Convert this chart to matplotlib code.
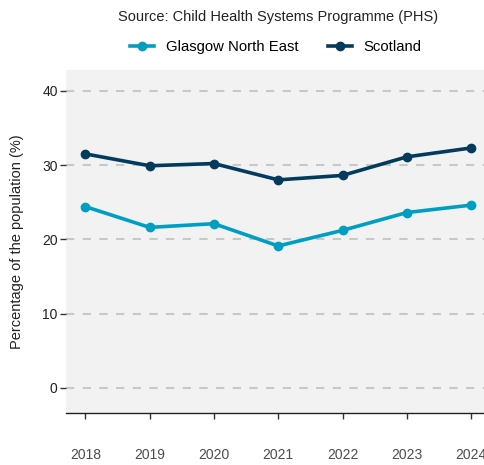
import matplotlib
matplotlib.use("Agg")
import matplotlib.pyplot as plt

plt.rcParams["font.family"] = ["Liberation Sans", "DejaVu Sans"]

years = [2018, 2019, 2020, 2021, 2022, 2023, 2024]
glasgow_ne = [24.4, 21.6, 22.1, 19.1, 21.2, 23.6, 24.6]
scotland = [31.5, 29.9, 30.2, 28.0, 28.6, 31.1, 32.3]
series_names = ["Glasgow North East", "Scotland"]
y_ticks = [0, 10, 20, 30, 40]

fig = plt.figure(figsize=(4.84, 4.65), dpi=100)
ax = fig.add_axes([0.1364, 0.1118, 0.8636, 0.7377])
ax.set_facecolor("#f2f2f2")

ax.plot(years, glasgow_ne, color="#009fc2", lw=2.6, marker="o", ms=6, label=series_names[0], zorder=3)
ax.plot(years, scotland, color="#043b5c", lw=2.6, marker="o", ms=6, label=series_names[1], zorder=3)

ax.set_xlim(2017.70, 2024.2)
ax.set_ylim(-3.4, 42.8)
ax.set_yticks(y_ticks)
ax.set_xticks(years)
ax.set_xticklabels([str(y) for y in years])

for t in y_ticks:
    ax.axhline(t, color="#c8c8c8", lw=1.5, ls=(0, (4, 4)), zorder=1)

for s in ["top", "right", "left"]:
    ax.spines[s].set_visible(False)
ax.spines["bottom"].set_color("#222222")
ax.spines["bottom"].set_linewidth(1.0)

ax.tick_params(axis="x", length=4, width=1, color="#333333", pad=21, labelsize=10, labelcolor="#4d4d4d")
ax.tick_params(axis="y", length=4, width=1, color="#333333", pad=2, labelsize=10, labelcolor="#222222")

ax.set_ylabel("Percentage of the population (%)", fontsize=10.5, color="#222222", labelpad=13)

fig.text(0.575, 0.963, "Source: Child Health Systems Programme (PHS)", ha="center", va="center",
         fontsize=10.5, color="#222222")
fig.legend(loc="center", bbox_to_anchor=(0.57, 0.899), ncol=2, frameon=False, fontsize=10.7,
           handlelength=1.6, columnspacing=2.0, handletextpad=0.8)

plt.savefig("out.png", dpi=100)
